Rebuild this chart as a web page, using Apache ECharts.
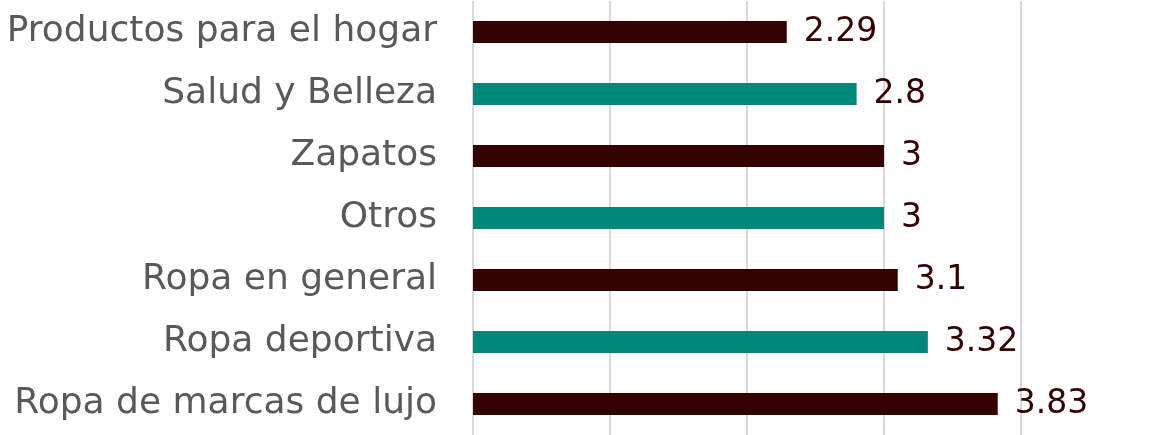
<!DOCTYPE html>
<html>
<head>
<meta charset="utf-8">
<script src="https://cdn.jsdelivr.net/npm/echarts@6/dist/echarts.min.js"></script>
<style>
  html, body { margin: 0; padding: 0; background: #fff; }
  #chart { width: 1156px; height: 435px; }
</style>
</head>
<body>
<div id="chart"></div>
<script>
const categories = [
  'Productos para el hogar',
  'Salud y Belleza',
  'Zapatos',
  'Otros',
  'Ropa en general',
  'Ropa deportiva',
  'Ropa de marcas de lujo'
];
const values = [2.29, 2.8, 3, 3, 3.1, 3.32, 3.83];
const barColors = ['#330000', '#00877A', '#330000', '#00877A', '#330000', '#00877A', '#330000'];

const chart = echarts.init(document.getElementById('chart'));

chart.setOption({
  backgroundColor: '#fff',
  animation: false,
  grid: { left: 473, right: 135, top: 1, bottom: 0 },
  xAxis: {
    type: 'value',
    min: 0,
    max: 4,
    interval: 1,
    axisLabel: { show: false },
    axisLine: { show: false },
    axisTick: { show: false },
    splitLine: { lineStyle: { color: '#d9d9d9', width: 2 } }
  },
  yAxis: {
    type: 'category',
    data: categories,
    inverse: true,
    axisLine: { show: false },
    axisTick: { show: false },
    axisLabel: {
      color: '#595959',
      fontFamily: 'DejaVu Sans',
      fontSize: 36,
      margin: 36
    }
  },
  series: [{
    type: 'bar',
    barWidth: 22,
    data: values.map((v, i) => ({
      value: v,
      itemStyle: { color: barColors[i] }
    })),
    label: {
      show: true,
      position: 'right',
      distance: 17,
      color: '#330000',
      fontFamily: 'DejaVu Sans',
      fontSize: 33
    }
  }]
});
</script>
</body>
</html>
